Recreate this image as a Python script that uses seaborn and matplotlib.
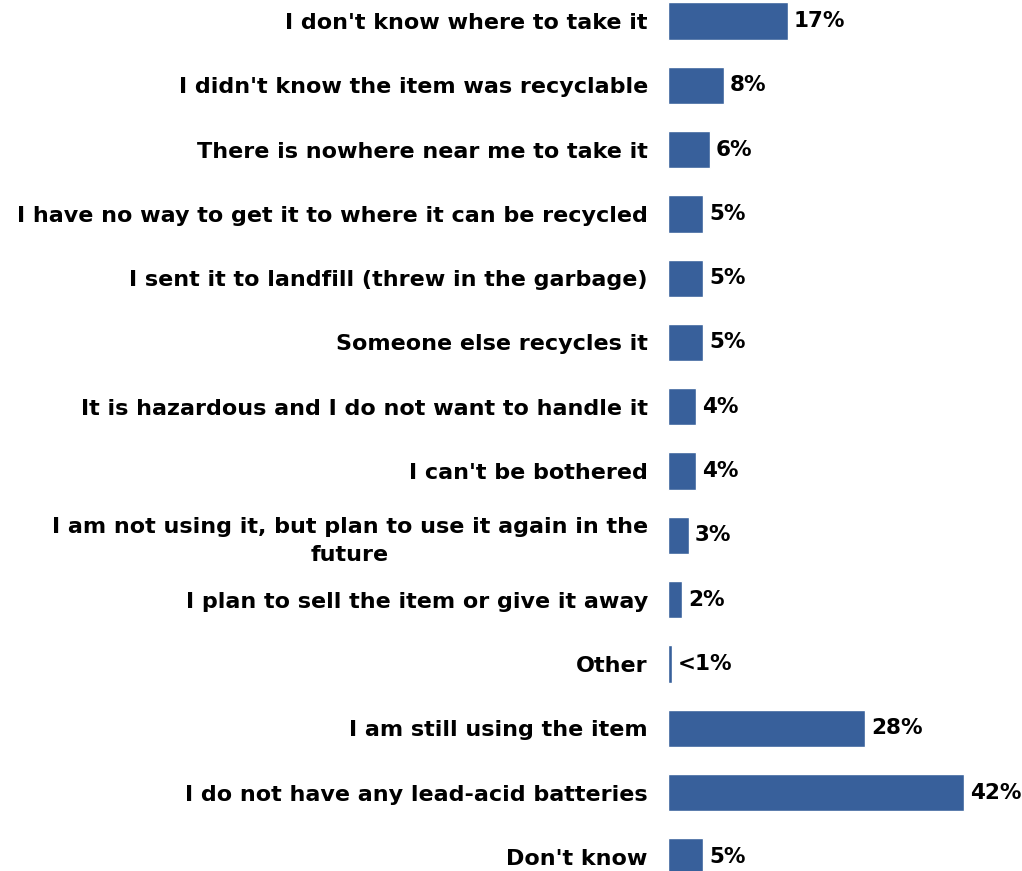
import matplotlib
matplotlib.use("Agg")
import matplotlib.pyplot as plt
import seaborn as sns
import pandas as pd

categories = [
    "I don't know where to take it",
    "I didn't know the item was recyclable",
    "There is nowhere near me to take it",
    "I have no way to get it to where it can be recycled",
    "I sent it to landfill (threw in the garbage)",
    "Someone else recycles it",
    "It is hazardous and I do not want to handle it",
    "I can't be bothered",
    "I am not using it, but plan to use it again in the\nfuture",
    "I plan to sell the item or give it away",
    "Other",
    "I am still using the item",
    "I do not have any lead-acid batteries",
    "Don't know",
]
values = [17, 8, 6, 5, 5, 5, 4, 4, 3, 2, 0.5, 28, 42, 5]
value_labels = ["17%", "8%", "6%", "5%", "5%", "5%", "4%", "4%", "3%", "2%",
                "<1%", "28%", "42%", "5%"]

sns.set_theme(style="white")
plt.rcParams["font.family"] = ["DejaVu Sans"]

df = pd.DataFrame({"reason": categories, "share": values})

fig = plt.figure(figsize=(10.22, 8.71), dpi=100)
ax = fig.add_axes([0.6536, 0.0, 0.326, 1.0])

sns.barplot(data=df, x="share", y="reason", orient="h", color="#38609B",
            saturation=1, width=0.58, ax=ax)

ax.set_xlim(0, 47.3)
ax.set_ylim(13.22, -0.327)
ax.set_xlabel("")
ax.set_ylabel("")
ax.set_xticks([])
for s in ax.spines.values():
    s.set_visible(False)

ax.tick_params(axis="y", length=0, pad=14.5)
for lbl in ax.get_yticklabels():
    lbl.set_fontsize(16)
    lbl.set_fontweight("bold")
    lbl.set_color("#000000")
    lbl.set_multialignment("center")
    lbl.set_linespacing(1.5)

ax.bar_label(ax.containers[0], labels=value_labels, padding=4.2,
             fontsize=15.5, fontweight="bold", color="#000000")

fig.savefig("out.png", dpi=100)
